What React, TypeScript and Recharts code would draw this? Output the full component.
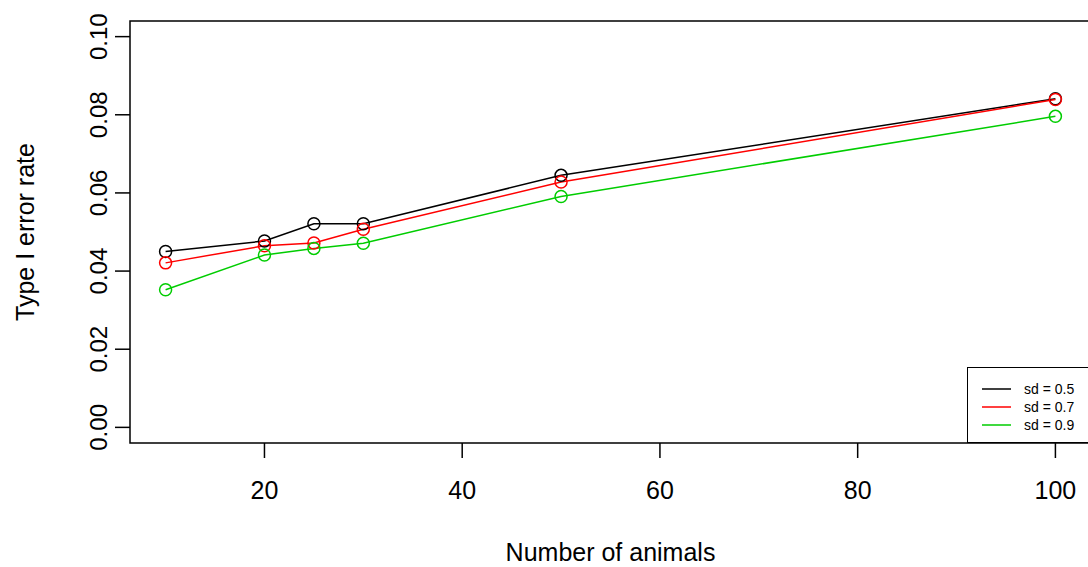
import {
  LineChart,
  Line,
  XAxis,
  YAxis,
  Legend,
  ReferenceArea,
} from "recharts";

const animals = [10, 20, 25, 30, 50, 100];
const sd05 = [0.045, 0.0477, 0.0521, 0.0521, 0.0645, 0.0841];
const sd07 = [0.0421, 0.0465, 0.0472, 0.0507, 0.0628, 0.0839];
const sd09 = [0.0352, 0.0441, 0.0458, 0.0471, 0.0591, 0.0796];

const xTicks = [20, 40, 60, 80, 100];
const yTicks = [0, 0.02, 0.04, 0.06, 0.08, 0.1];

const series = [
  { key: "sd05", name: "sd = 0.5", color: "#000000", values: sd05 },
  { key: "sd07", name: "sd = 0.7", color: "#ff0000", values: sd07 },
  { key: "sd09", name: "sd = 0.9", color: "#00cd00", values: sd09 },
];

const data = animals.map((n, i) => {
  const row: Record<string, number> = { n };
  series.forEach((s) => {
    row[s.key] = s.values[i];
  });
  return row;
});

const FONT = "'Liberation Sans', Arial, sans-serif";

// R pads the axis range by 4% on each side
const xDomain: [number, number] = [6.4, 103.6];
const yDomain: [number, number] = [-0.004, 0.104];

function XTick({ x, y, payload }: any) {
  return (
    <text x={x} y={y + 41} textAnchor="middle" fontSize={25} fontFamily={FONT} fill="#000">
      {payload.value}
    </text>
  );
}

function YTick({ x, y, payload }: any) {
  const bx = x - 8;
  return (
    <text
      x={bx}
      y={y}
      transform={`rotate(-90, ${bx}, ${y})`}
      textAnchor="middle"
      fontSize={24}
      fontFamily={FONT}
      fill="#000"
    >
      {Number(payload.value).toFixed(2)}
    </text>
  );
}

function LegendBox({ payload }: any) {
  return (
    <div
      style={{
        border: "1px solid #000",
        background: "#fff",
        padding: "12px 0 4px 14px",
        width: 140,
        height: 58,
        fontFamily: FONT,
        fontSize: 14,
      }}
    >
      {(payload || []).map((p: any) => (
        <div key={p.value} style={{ display: "flex", alignItems: "center", height: 18 }}>
          <svg width={29} height={4} style={{ marginRight: 13 }}>
            <line x1={0} y1={2} x2={29} y2={2} stroke={p.color} strokeWidth={1.5} />
          </svg>
          <span>{p.value}</span>
        </div>
      ))}
    </div>
  );
}

export default function App() {
  return (
    <div
      style={{
        position: "absolute",
        left: 0,
        top: 0,
        width: 1088,
        height: 567,
        overflow: "hidden",
        background: "#fff",
      }}
    >
      <LineChart
        width={1100}
        height={567}
        data={data}
        margin={{ top: 21, right: 9, left: 0, bottom: 0 }}
      >
        <XAxis
          dataKey="n"
          type="number"
          domain={xDomain}
          ticks={xTicks}
          allowDataOverflow
          height={124}
          axisLine={false}
          tickSize={15}
          tickMargin={0}
          tickLine={{ stroke: "#000", strokeWidth: 1.5 }}
          tick={<XTick />}
          label={{
            value: "Number of animals",
            position: "insideBottom",
            offset: 6,
            style: { fontSize: 25, fontFamily: FONT, fill: "#000" },
          }}
        />
        <YAxis
          type="number"
          domain={yDomain}
          ticks={yTicks}
          allowDataOverflow
          width={130}
          axisLine={false}
          tickSize={15}
          tickMargin={0}
          tickLine={{ stroke: "#000", strokeWidth: 1.5 }}
          tick={<YTick />}
          label={{
            value: "Type I error rate",
            angle: -90,
            position: "insideLeft",
            offset: 25,
            style: { fontSize: 25, fontFamily: FONT, fill: "#000", textAnchor: "middle" },
          }}
        />
        <ReferenceArea
          x1={xDomain[0]}
          x2={xDomain[1]}
          y1={yDomain[0]}
          y2={yDomain[1]}
          fill="none"
          stroke="#000"
          strokeWidth={1.5}
          ifOverflow="visible"
        />
        {series.map((s) => (
          <Line
            key={s.key}
            dataKey={s.key}
            name={s.name}
            type="linear"
            stroke={s.color}
            strokeWidth={1.5}
            dot={{ r: 6, fill: "none", stroke: s.color, strokeWidth: 1.5 }}
            activeDot={false}
            isAnimationActive={false}
          />
        ))}
        <Legend
          layout="horizontal"
          verticalAlign="middle"
          content={<LegendBox />}
          wrapperStyle={{ left: 967, top: 367, width: 140, height: 76 }}
        />
      </LineChart>
    </div>
  );
}
